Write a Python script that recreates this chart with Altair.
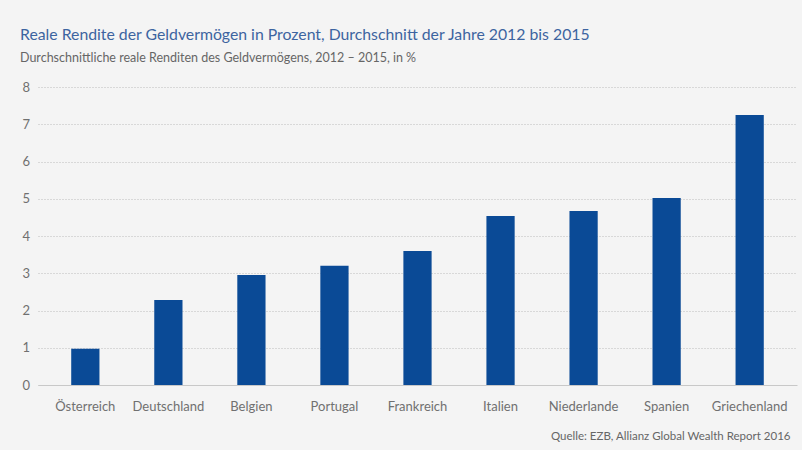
import altair as alt
import pandas as pd

countries = ["Österreich", "Deutschland", "Belgien", "Portugal", "Frankreich",
             "Italien", "Niederlande", "Spanien", "Griechenland"]
values = [0.97, 2.28, 2.95, 3.2, 3.6, 4.54, 4.67, 5.02, 7.25]
y_ticks = [0, 1, 2, 3, 4, 5, 6, 7, 8]

title_text = "Reale Rendite der Geldvermögen in Prozent, Durchschnitt der Jahre 2012 bis 2015"
subtitle_text = "Durchschnittliche reale Renditen des Geldvermögens, 2012 – 2015, in %"
source_text = "Quelle: EZB, Allianz Global Wealth Report 2016"

df = pd.DataFrame({"Land": countries, "Wert": values})

FONT = "Lato"

chart = alt.Chart(df).mark_bar(color="#0a4a96").encode(
    x=alt.X("Land:N", sort=countries,
            scale=alt.Scale(paddingInner=0.66, paddingOuter=0.4),
            axis=alt.Axis(title=source_text, labelAngle=0, labelFontSize=13,
                          labelColor="#707070", labelFont=FONT, labelPadding=15,
                          ticks=False, domainColor="#c8c8c8", domainWidth=1.2,
                          titleFont=FONT, titleFontSize=11.5, titleFontWeight="normal",
                          titleColor="#666666", titleAnchor="end", titleAlign="right",
                          titleX=752, titlePadding=17)),
    y=alt.Y("Wert:Q", scale=alt.Scale(domain=[0, 8]),
            axis=alt.Axis(title=None, values=y_ticks, domain=False, ticks=False,
                          labelAlign="left", labelPadding=16, labelFontSize=13,
                          labelColor="#707070", labelFont=FONT,
                          gridColor="#bdbdbd", gridDash=[1, 2], gridWidth=1)),
).properties(
    width=759, height=298,
    title=alt.TitleParams(text=title_text, subtitle=subtitle_text, anchor="start",
                          frame="group", dx=-18, offset=16,
                          font=FONT, fontSize=15.8, fontWeight="normal", color="#3d64a0",
                          subtitleFont=FONT, subtitleFontSize=12.5, subtitleColor="#666666",
                          subtitlePadding=8),
    autosize=alt.AutoSizeParams(type="none"),
    padding={"left": 38, "top": 87, "right": 5, "bottom": 65},
    background="#f4f4f4",
).configure_view(stroke=None)

chart.save("out.html", embed_options={"renderer": "svg", "actions": False})
